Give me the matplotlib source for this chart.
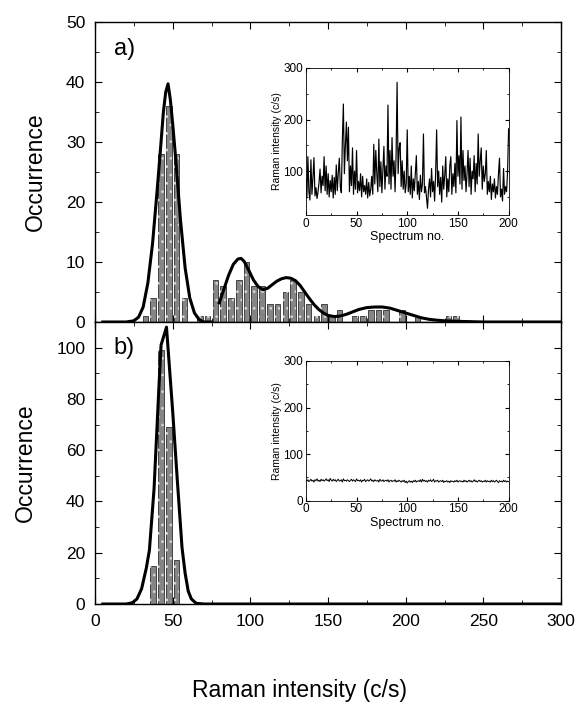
import matplotlib.pyplot as plt
import numpy as np
from matplotlib.ticker import MultipleLocator

plt.rcParams['font.family'] = ['Liberation Sans', 'DejaVu Sans']
plt.rcParams['hatch.linewidth'] = 0.8

# histogram a) : bin centres (c/s) and counts
bins_a = [32.5, 37.5, 42.5, 47.5, 52.5, 57.5, 62.5, 67.5, 72.5, 77.5, 82.5, 87.5, 92.5,
          97.5, 102.5, 107.5, 112.5, 117.5, 122.5, 127.5, 132.5, 137.5, 142.5, 147.5,
          152.5, 157.5, 162.5, 167.5, 172.5, 177.5, 182.5, 187.5, 192.5, 197.5, 202.5,
          207.5, 212.5, 217.5, 222.5, 227.5, 232.5]
counts_a = [1, 4, 28, 36, 28, 4, 0, 1, 1, 7, 6, 4, 7,
            10, 6, 6, 3, 3, 5, 7, 5, 3, 1, 3,
            1, 2, 0, 1, 1, 2, 2, 2, 0, 2, 0,
            1, 0, 0, 0, 1, 1]

# fit curve a), main peak
fit_a1_x = [5, 20, 25, 28, 31, 34, 37, 40, 42.5, 44, 45.5, 47, 48.5, 50, 52, 55, 58, 61, 64, 67, 70, 75]
fit_a1_y = [0, 0, 0.2, 0.8, 2.5, 6.5, 13, 22, 30, 35, 38.3, 39.7, 37, 33, 27, 17, 9, 4, 1.5, 0.4, 0, 0]
# fit curve a), higher intensity components
fit_a2_x = [80, 83, 86, 89, 92, 94, 96, 99, 102, 105, 108, 111, 114, 117, 120, 123, 126, 129,
            132, 135, 138, 141, 144, 147, 150, 154, 158, 162, 166, 170, 175, 180, 185, 190,
            195, 200, 205, 210, 215, 220, 225, 235, 250, 300]
fit_a2_y = [3.2, 5.5, 7.8, 9.6, 10.5, 10.6, 10.1, 8.6, 7.0, 5.9, 5.4, 5.6, 6.2, 6.8, 7.2, 7.4, 7.3, 6.9,
            6.1, 5.0, 3.9, 2.9, 2.1, 1.5, 1.1, 0.9, 1.0, 1.3, 1.7, 2.1, 2.4, 2.5, 2.5, 2.3,
            1.9, 1.5, 1.1, 0.7, 0.45, 0.3, 0.2, 0.1, 0, 0]

# histogram b)
bins_b = [37.5, 42.5, 47.5, 52.5]
counts_b = [15, 99, 69, 17]
fit_b_x = [5, 20, 24, 27, 30, 33, 35, 38, 41, 42.5, 46, 50, 53, 56, 58, 60, 62, 65, 70, 300]
fit_b_y = [0, 0, 0.5, 2, 6, 14, 21, 45, 83, 101, 108, 75, 48, 22, 12, 5, 2, 0.3, 0, 0]

# inset time traces, spectrum no. 0..200
trace_a = [85, 48, 128, 60, 44, 122, 55, 88, 126, 52, 68, 47, 60, 78, 104, 58, 90, 72, 128, 62,
           110, 55, 95, 50, 82, 60, 92, 48, 88, 55, 112, 62, 98, 125, 70, 58, 160, 230, 95, 150,
           195, 120, 185, 60, 110, 72, 145, 55, 100, 65, 140, 58, 80, 62, 95, 50, 90, 60, 72, 55,
           85, 48, 78, 52, 65, 90, 55, 152, 75, 140, 95, 60, 162, 70, 118, 58, 105, 148, 65, 110,
           90, 228, 75, 140, 65, 165, 90, 120, 60, 130, 272, 95, 145, 155, 70, 120, 65, 100, 58, 75,
           180, 60, 90, 55, 110, 48, 85, 62, 95, 130, 55, 80, 45, 92, 60, 75, 172, 58, 70, 48,
           28, 65, 85, 50, 105, 60, 80, 42, 95, 180, 70, 100, 55, 88, 40, 110, 65, 92, 128, 50,
           85, 60, 110, 128, 55, 95, 70, 115, 58, 198, 90, 130, 75, 205, 65, 140, 82, 110, 60, 95,
           140, 70, 125, 55, 100, 85, 130, 60, 115, 75, 172, 90, 120, 145, 65, 110, 80, 95, 140, 55,
           80, 60, 90, 45, 75, 60, 85, 48, 70, 55, 95, 125, 50, 65, 42, 105, 55, 70, 60, 100, 182]
trace_b = [44, 42, 45, 41, 43, 46, 42, 44, 40, 45, 43, 47, 42, 44, 41, 46, 43, 45, 42, 44,
           47, 43, 45, 41, 48, 44, 42, 46, 43, 45, 41, 44, 46, 42, 43, 45, 40, 47, 43, 44,
           42, 45, 43, 41, 44, 46, 42, 45, 43, 41, 47, 43, 44, 42, 45, 40, 44, 43, 46, 41,
           43, 45, 42, 44, 47, 42, 44, 41, 45, 43, 42, 44, 40, 46, 43, 42, 45, 41, 43, 44,
           42, 45, 40, 43, 44, 41, 43, 42, 45, 40, 43, 41, 44, 42, 40, 43, 41, 44, 39, 42,
           38, 41, 43, 40, 42, 39, 43, 41, 44, 40, 42, 43, 41, 45, 40, 46, 42, 44, 41, 43,
           40, 44, 42, 45, 41, 43, 46, 40, 43, 42, 44, 40, 42, 43, 41, 44, 39, 42, 41, 43,
           40, 42, 39, 43, 41, 42, 40, 43, 41, 44, 40, 42, 43, 41, 42, 40, 44, 41, 43, 40,
           42, 44, 41, 43, 40, 42, 45, 41, 43, 40, 42, 44, 41, 43, 40, 42, 41, 44, 40, 43,
           41, 42, 40, 44, 41, 43, 40, 42, 44, 41, 39, 43, 41, 42, 40, 44, 41, 43, 40, 42, 41]
spec_no = np.arange(len(trace_a))

fig = plt.figure(figsize=(5.76, 7.28), dpi=100)
ax_a = fig.add_axes([0.165, 0.5577, 0.809, 0.4121])
ax_b = fig.add_axes([0.165, 0.1703, 0.809, 0.3874])


def draw_bars(ax, centres, counts):
    ax.bar(centres, counts, width=3.6, color='#858585', edgecolor='#2e2e2e', linewidth=0.6, zorder=2)
    ax.bar(centres, counts, width=3.6, facecolor='none', edgecolor='#d2d2d2', hatch='..',
           linewidth=0, zorder=3)


draw_bars(ax_a, bins_a, counts_a)
ax_a.plot(fit_a1_x, fit_a1_y, color='black', lw=2.2, zorder=4)
ax_a.plot(fit_a2_x, fit_a2_y, color='black', lw=2.2, zorder=4)
draw_bars(ax_b, bins_b, counts_b)
ax_b.plot(fit_b_x, fit_b_y, color='black', lw=2.2, zorder=4)

ax_a.set_ylim(0, 50)
ax_b.set_ylim(0, 110)
for ax in (ax_a, ax_b):
    ax.set_xlim(0, 300)
    ax.xaxis.set_major_locator(MultipleLocator(50))
    ax.xaxis.set_minor_locator(MultipleLocator(25))
    ax.tick_params(which='both', direction='in', top=True, right=True, labelsize=12.5)
    ax.tick_params(which='major', length=5, pad=7)
    ax.tick_params(which='minor', length=3)
    ax.set_ylabel('Occurrence', fontsize=16.5, labelpad=14)
    for s in ax.spines.values():
        s.set_linewidth(1.0)
ax_a.yaxis.set_major_locator(MultipleLocator(10))
ax_a.yaxis.set_minor_locator(MultipleLocator(5))
ax_b.yaxis.set_major_locator(MultipleLocator(20))
ax_b.yaxis.set_minor_locator(MultipleLocator(10))
ax_b.set_yticks([0, 20, 40, 60, 80, 100])
ax_a.tick_params(labelbottom=False)

ax_a.text(12, 45.5, 'a)', fontsize=17, va='center')
ax_b.text(12, 100, 'b)', fontsize=17, va='center')
fig.text(0.52, 0.052, 'Raman intensity (c/s)', fontsize=16.5, ha='center', va='center')

# insets
ins_a = fig.add_axes([0.531, 0.7047, 0.352, 0.202])
ins_b = fig.add_axes([0.531, 0.3122, 0.352, 0.192])
ins_a.plot(spec_no, trace_a, color='black', lw=0.85)
ins_b.plot(spec_no, trace_b, color='black', lw=0.7)
ins_a.set_ylim(15, 300)
ins_a.set_yticks([100, 200, 300])
ins_b.set_ylim(0, 300)
ins_b.set_yticks([0, 100, 200, 300])
for ins in (ins_a, ins_b):
    ins.set_xlim(0, 200)
    ins.set_xticks([0, 50, 100, 150, 200])
    ins.xaxis.set_minor_locator(MultipleLocator(25))
    ins.yaxis.set_minor_locator(MultipleLocator(50))
    ins.tick_params(which='both', direction='in', top=True, right=True, labelsize=8.5, pad=2)
    ins.tick_params(which='major', length=3)
    ins.tick_params(which='minor', length=1.5)
    ins.set_xlabel('Spectrum no.', fontsize=9, labelpad=1)
    ins.set_ylabel('Raman intensity (c/s)', fontsize=7.5, labelpad=1)
    for s in ins.spines.values():
        s.set_linewidth(0.6)

fig.savefig('out.png', dpi=100)
